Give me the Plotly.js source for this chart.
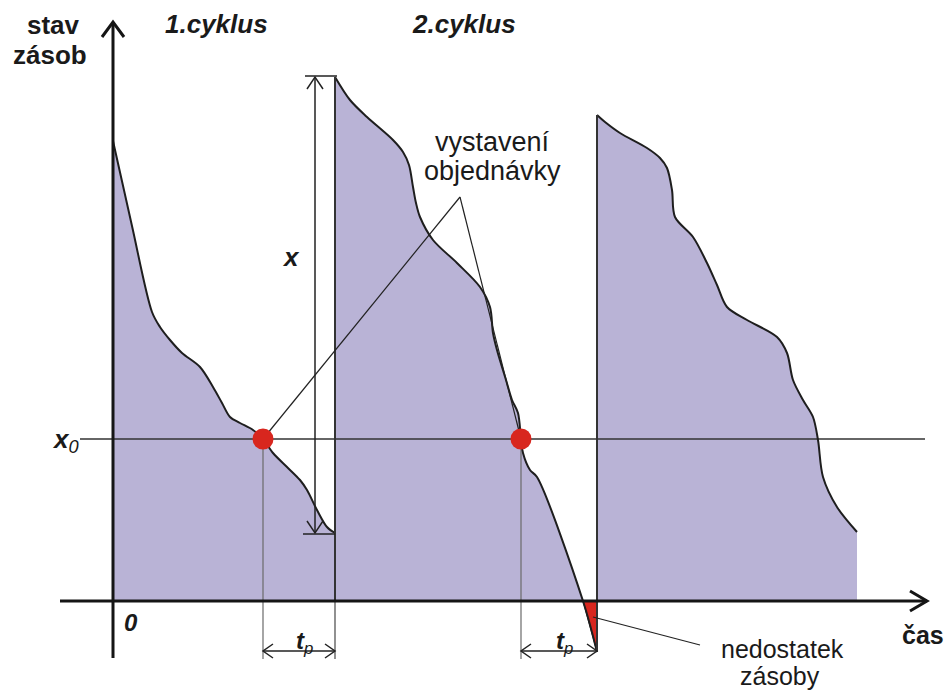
<!DOCTYPE html>
<html>
<head>
<meta charset="utf-8">
<script src="https://cdn.plot.ly/plotly-3.0.1.min.js"></script>
<style>html,body{margin:0;padding:0;background:#fff;}#chart{width:950px;height:691px;}</style>
</head>
<body>
<div id="chart"></div>
<script>
// ---- data (time t, stock level s) ----
const cycle1T = [0,19,39,47,57,69,87,100,109,117,127,140,150,160,174,187,194,204,214,222];
const cycle1S = [460,375,289,274,261,248,234,214,198,184,178,171,162,148,134,121,111,91,74,68];
const cycle2T = [222,237,254,280,290,296,300,303,307,320,344,367,377,380,384,393,399,405,408,410,417,424,470,484];
const cycle2S = [524,501,484,461,449,436,414,398,384,361,338,314,294,268,251,221,201,188,162,148,131,124,0,-51];
const cycle3T = [484,492,507,534,547,554,559,562,580,594,604,614,634,664,674,680,690,700,705,710,724,744];
const cycle3S = [486,479,468,453,443,433,411,384,364,338,316,294,281,264,248,221,201,184,161,124,94,69];
const reorderLevel = 162;            // x0
const orderTimes = [150, 408];       // vystavení objednávky
const deliveryTimes = [222, 484];    // dodávka po t_p
const orderQty = [68, 524];          // x: level before / after delivery

// ---- geometry (layout only) ----
const FONT = "Liberation Sans, Arial, sans-serif";
const purple = "#b9b3d6", dark = "#1e1e1e", red = "#d8261e";
const axisXStart = -53, axisXEnd = 814, axisYStart = -57, axisYEnd = 579;
const dropBottom = -58, tpLevel = -50;
const xArrowT = 202, leaderApex = [347, 404];
const shortLeader = [[480, -16], [587, -44]];

function head(tx, ty, dx, dy, len, half) {
  const px = -dy, py = dx;
  return {
    x: [tx - len*dx + half*px, tx, tx - len*dx - half*px, null],
    y: [ty - len*dy + half*py, ty, ty - len*dy - half*py, null]
  };
}
function joinSegs(list) {
  const x = [], y = [];
  list.forEach(s => { x.push(...s.x); y.push(...s.y); });
  return {x, y};
}
function seg(x1,y1,x2,y2){ return {x:[x1,x2,null], y:[y1,y2,null]}; }

const SMOOTH = 0.9;
const traces = [];
// fills
traces.push({x: cycle1T, y: cycle1S, mode: "lines", fill: "tozeroy", fillcolor: purple,
  line: {width: 0, shape: "spline", smoothing: SMOOTH}, hoverinfo: "skip"});
const c2T = [], c2S = [];
cycle2T.forEach((t,i) => { if (cycle2S[i] >= 0) { c2T.push(t); c2S.push(cycle2S[i]); } });
traces.push({x: c2T, y: c2S, mode: "lines", fill: "tozeroy", fillcolor: purple,
  line: {width: 0, shape: "spline", smoothing: SMOOTH}, hoverinfo: "skip"});
traces.push({x: cycle3T, y: cycle3S, mode: "lines", fill: "tozeroy", fillcolor: purple,
  line: {width: 0, shape: "spline", smoothing: SMOOTH}, hoverinfo: "skip"});
// shortage triangle
const zeroT = c2T[c2T.length-1];
const lastT = cycle2T[cycle2T.length-1], lastS = cycle2S[cycle2S.length-1];
traces.push({x: [zeroT, lastT, lastT, zeroT], y: [0, 0, lastS, 0], mode: "lines", fill: "toself",
  fillcolor: red, line: {width: 1, color: dark}, hoverinfo: "skip"});

// thin drop lines (gray)
const drops = joinSegs([
  seg(orderTimes[0], reorderLevel, orderTimes[0], dropBottom),
  seg(orderTimes[1], reorderLevel, orderTimes[1], dropBottom)
]);
traces.push({x: drops.x, y: drops.y, mode: "lines", line: {width: 1.2, color: "#6a6a6a"}, hoverinfo: "skip"});
// reorder level line
traces.push({x: [-33, axisXEnd - 2], y: [reorderLevel, reorderLevel], mode: "lines",
  line: {width: 1.6, color: "#333"}, hoverinfo: "skip"});

// curves
[[cycle1T, cycle1S], [cycle2T, cycle2S], [cycle3T, cycle3S]].forEach(([t, s]) => {
  traces.push({x: t, y: s, mode: "lines", line: {width: 2, color: dark, shape: "spline", smoothing: SMOOTH}, hoverinfo: "skip"});
});
// replenishment jumps
const jumps = joinSegs([
  seg(deliveryTimes[0], 0, deliveryTimes[0], orderQty[1]),
  seg(deliveryTimes[1], lastS, deliveryTimes[1], cycle3S[0])
]);
traces.push({x: jumps.x, y: jumps.y, mode: "lines", line: {width: 2, color: "#333"}, hoverinfo: "skip"});
traces.push({x: [deliveryTimes[0], deliveryTimes[0]], y: [0, dropBottom], mode: "lines", line: {width: 1.3, color: "#555"}, hoverinfo: "skip"});

// axes with arrows
const axes = joinSegs([
  seg(0, axisYStart, 0, axisYEnd),
  seg(axisXStart, 0, axisXEnd, 0),
  head(0, axisYEnd, 0, 1, 15, 11),
  head(axisXEnd, 0, 1, 0, 17, 10)
]);
traces.push({x: axes.x, y: axes.y, mode: "lines", line: {width: 3, color: "#151515"}, hoverinfo: "skip"});

// dimension arrows (x and t_p)
const dims = joinSegs([
  seg(xArrowT, orderQty[0], xArrowT, orderQty[1]),
  head(xArrowT, orderQty[1], 0, 1, 12, 8),
  head(xArrowT, orderQty[0], 0, -1, 12, 8),
  seg(xArrowT - 10, orderQty[1] + 1, deliveryTimes[0] + 2, orderQty[1] + 1),
  seg(xArrowT - 12, orderQty[0] - 1, deliveryTimes[0], orderQty[0] - 1),
  seg(orderTimes[0], tpLevel, deliveryTimes[0], tpLevel),
  head(orderTimes[0], tpLevel, -1, 0, 10, 7),
  head(deliveryTimes[0], tpLevel, 1, 0, 10, 7),
  seg(orderTimes[1], tpLevel, deliveryTimes[1], tpLevel),
  head(orderTimes[1], tpLevel, -1, 0, 10, 7),
  head(deliveryTimes[1], tpLevel, 1, 0, 10, 7)
]);
traces.push({x: dims.x, y: dims.y, mode: "lines", line: {width: 1.5, color: "#222"}, hoverinfo: "skip"});

// leader lines
const leaders = joinSegs([
  seg(leaderApex[0], leaderApex[1], orderTimes[0], reorderLevel),
  seg(leaderApex[0], leaderApex[1], orderTimes[1], reorderLevel),
  seg(shortLeader[0][0], shortLeader[0][1], shortLeader[1][0], shortLeader[1][1])
]);
traces.push({x: leaders.x, y: leaders.y, mode: "lines", line: {width: 1.2, color: "#222"}, hoverinfo: "skip"});

// order points
traces.push({x: orderTimes, y: orderTimes.map(() => reorderLevel), mode: "markers",
  marker: {size: 21, color: red, line: {width: 0}}, hoverinfo: "skip"});

function ann(text, x, y, size, weight, style, opts) {
  return Object.assign({text, x, y, xref: "x", yref: "y", showarrow: false,
    font: {family: FONT, size, color: "#1a1a1a", weight: weight, style: style}}, opts || {});
}
const annotations = [
  ann("stav", -60, 576, 26, "bold", "normal"),
  ann("zásob", -63, 546, 26, "bold", "normal"),
  ann("1.cyklus", 103, 577, 26, "bold", "italic"),
  ann("2.cyklus", 351, 577, 26, "bold", "italic"),
  ann("vystavení", 379, 459, 27, "normal", "normal"),
  ann("objednávky", 379, 430, 27, "normal", "normal"),
  ann("x", 178, 344, 26, "bold", "italic"),
  ann("<b>x</b><sub>0</sub>", -32, 161, 26, "normal", "italic", {xanchor: "right"}),
  ann("0", 18, -21, 24, "bold", "italic"),
  ann("<b>t</b><sub>p</sub>", 191, -41, 24, "normal", "italic"),
  ann("<b>t</b><sub>p</sub>", 451, -41, 24, "normal", "italic"),
  ann("čas", 810, -34, 25, "bold", "normal"),
  ann("nedostatek", 669, -48, 25, "normal", "normal"),
  ann("zásoby", 667, -75, 25, "normal", "normal")
];

const layout = {
  width: 950, height: 691, autosize: false,
  margin: {l: 0, r: 0, t: 0, b: 0, pad: 0},
  paper_bgcolor: "#fff", plot_bgcolor: "#fff",
  showlegend: false,
  xaxis: {range: [-113, 837], visible: false, fixedrange: true},
  yaxis: {range: [-90, 601], visible: false, fixedrange: true},
  annotations
};
Plotly.newPlot("chart", traces, layout, {staticPlot: true, displayModeBar: false});
</script>
</body>
</html>
